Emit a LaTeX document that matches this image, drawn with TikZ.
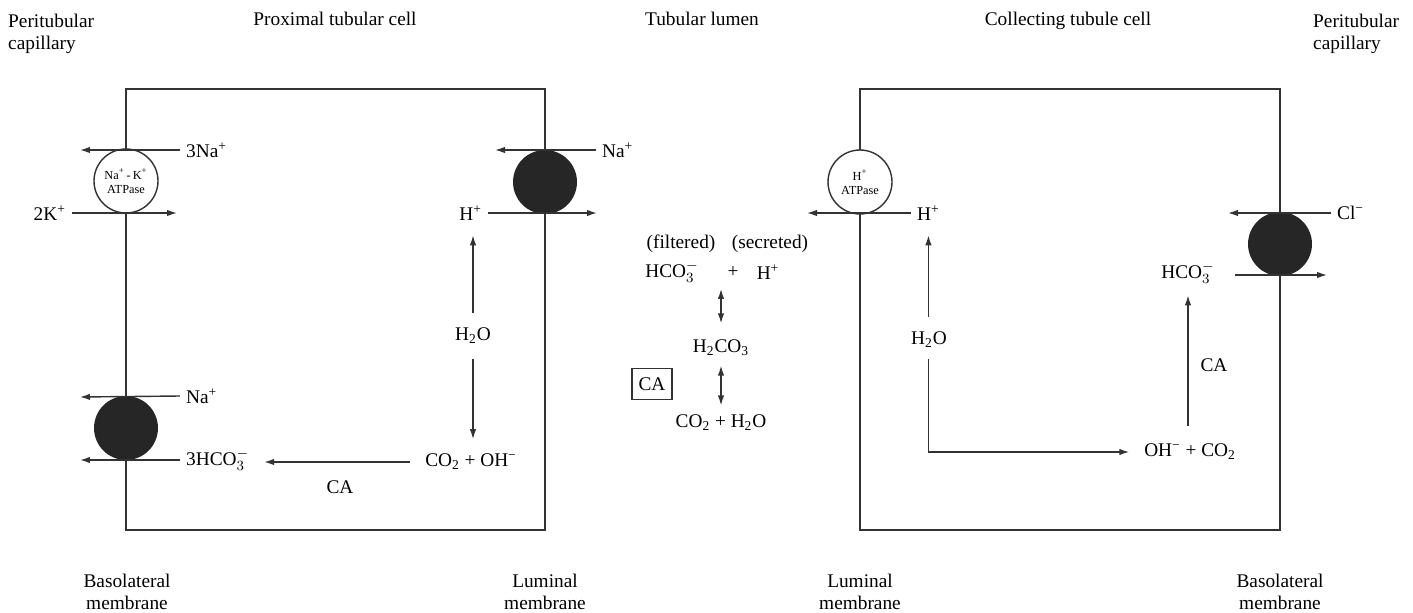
\documentclass[tikz,border=0pt]{standalone}
\usepackage{fontspec}
\setmainfont{Liberation Serif}
\usetikzlibrary{arrows.meta}
\newcommand{\hcothree}{HCO$_3^-$}

\begin{document}
\begin{tikzpicture}[x=0.02cm, y=-0.02cm, >={Latex[length=2mm,width=1.3mm]},
    every node/.style={align=center, font=\fontsize{11}{12.5}\selectfont},
    wall/.style={line width=0.8pt, black!80},
    flow/.style={->, line width=0.8pt, black!80},
    gap/.style={shorten <=5pt, shorten >=5pt},
    pumpw/.style={circle, draw=black!80, line width=0.8pt, fill=white, minimum size=1.28cm,
      inner sep=0pt, font=\fontsize{7}{8}\selectfont},
    exch/.style={circle, fill=black!85, minimum size=1.28cm, inner sep=0pt}]
    \useasboundingbox (0,0) rectangle (1413,612);
    % cells
    \draw[wall] (126,89) rectangle (545,530);
    \draw[wall] (860,89) rectangle (1280,530);
    \node[pumpw] (nak) at (126,181) {Na\textsuperscript{+}\,-\,K\textsuperscript{+}\\ATPase};
    \node[exch] (lumex) at (545,182) {};
    \node[exch] (basex) at (126,428) {};
    \node[pumpw] (hatp) at (860,182) {H\textsuperscript{+}\\ATPase};
    \node[exch] (clex) at (1280,244) {};

    % proximal tubular cell
    \node[anchor=west] (na3) at (180,150) {3Na\textsuperscript{+}};
    \coordinate (na3end) at (80,150);
    \draw[flow] (na3.west) -- (na3end);
    \node[anchor=east] (k2) at (72,213) {2K\textsuperscript{+}};
    \coordinate (k2end) at (177,213);
    \draw[flow] (k2.east) -- (k2end);
    \node[anchor=west] (nalum) at (596,150) {Na\textsuperscript{+}};
    \coordinate (nalumend) at (495,150);
    \draw[flow] (nalum.west) -- (nalumend);
    \node[anchor=east] (hl) at (488,213) {H\textsuperscript{+}};
    \coordinate (hlend) at (597,213);
    \draw[flow] (hl.east) -- (hlend);
    \node (h2ol) at (473,336) {H\textsubscript{2}O};
    \node (co2oh) at (471,462) {CO\textsubscript{2} + OH\textsuperscript{−}};
    \draw[flow, gap] (h2ol.north) -- (h2ol.north |- hl.south);
    \draw[flow, gap] (h2ol.south) -- (h2ol.south |- co2oh.north);
    \node[anchor=west] (nabas) at (180,396) {Na\textsuperscript{+}};
    \coordinate (nabasend) at (80,397);
    \draw[flow] (nabas.west) -- (nabasend);
    \node[anchor=west] (hco3b) at (180,460) {3\hcothree};
    \coordinate (hco3bend) at (80,460);
    \draw[flow] (hco3b.west) -- (hco3bend);
    \draw[flow, gap] (co2oh.west) -- (hco3b.east |- co2oh.west);
    \node (cal) at (340,487) {CA};

    % tubular lumen
    \node (filt) at (681,244) {(filtered)};
    \node (secr) at (770,244) {(secreted)};
    \node (hco3m) at (672,272) {\hcothree};
    \node (plus) at (733,272) {+};
    \node (hsec) at (768,272) {H\textsuperscript{+}};
    \node (h2co3) at (721,348) {H\textsubscript{2}CO\textsubscript{3}};
    \node (co2w) at (721,423) {CO\textsubscript{2} + H\textsubscript{2}O};
    \node[draw=black!80, line width=0.8pt, minimum width=0.8cm, minimum height=0.62cm] (cabox) at (652,384) {CA};
    \draw[<->, line width=0.8pt, black!80, shorten <=3pt, shorten >=6pt] (h2co3.north |- plus.south) -- (h2co3.north);
    \draw[<->, line width=0.8pt, black!80, shorten <=2pt, shorten >=2pt] (h2co3.south) -- (h2co3.south |- co2w.north);

    % collecting tubule cell
    \node[anchor=west] (hr) at (911,213) {H\textsuperscript{+}};
    \coordinate (hrend) at (807,213);
    \draw[flow] (hr.west) -- (hrend);
    \node (h2or) at (929,340) {H\textsubscript{2}O};
    \node (ohco2) at (1190,452) {OH\textsuperscript{−} + CO\textsubscript{2}};
    \draw[flow, gap] (h2or.north -| hr.south) -- (hr.south);
    \draw[flow, shorten <=3pt, shorten >=5pt] (h2or.south -| hr.south) |- (ohco2.west);
    \node (hco3r) at (1188,273) {\hcothree};
    \draw[flow, shorten <=7pt, shorten >=3pt] (ohco2.north -| hco3r.south) -- (hco3r.south);
    \node (car) at (1214,365) {CA};
    \node[anchor=west] (cl) at (1331,213) {Cl\textsuperscript{−}};
    \coordinate (clend) at (1228,213);
    \draw[flow] (cl.west) -- (clend);
    \coordinate (hco3rend) at (1327,275);
    \draw[flow, shorten <=8pt] (hco3r.east |- hco3rend) -- (hco3rend);

    % headings
    \node[anchor=north west, align=left] (peril) at (2,8) {Peritubular\\capillary};
    \node[anchor=base] (prox) at (335,26) {Proximal tubular cell};
    \node[anchor=base] (lumen) at (702,26) {Tubular lumen};
    \node[anchor=base] (coll) at (1068,26) {Collecting tubule cell};
    \node[anchor=north west, align=left] (perir) at (1307,8) {Peritubular\\capillary};
    \node (basl) at (127,592) {Basolateral\\membrane};
    \node (luml) at (545,592) {Luminal\\membrane};
    \node (lumr) at (860,592) {Luminal\\membrane};
    \node (basr) at (1280,592) {Basolateral\\membrane};
\end{tikzpicture}
\end{document}
